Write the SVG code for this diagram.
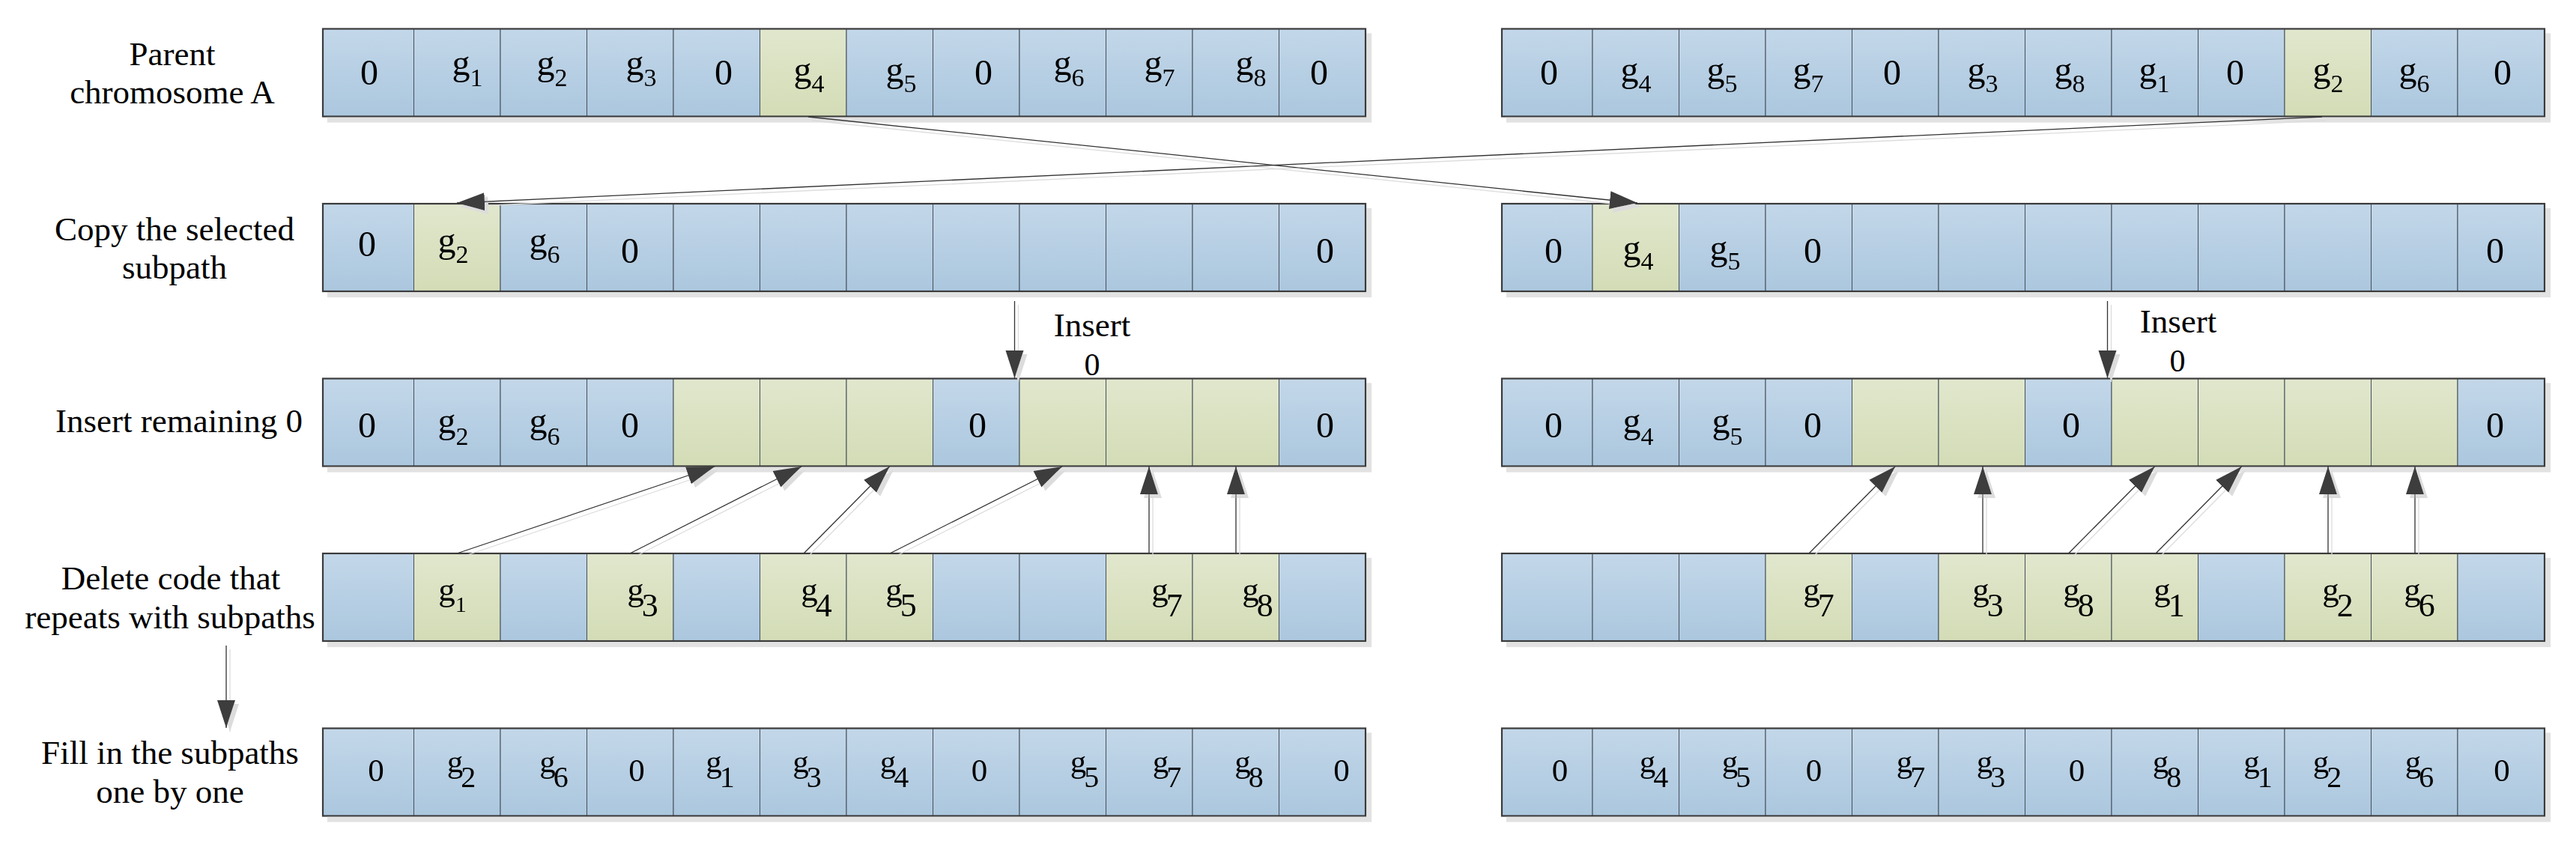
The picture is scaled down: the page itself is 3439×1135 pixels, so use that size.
<svg xmlns="http://www.w3.org/2000/svg" width="3439" height="1135" viewBox="0 0 3439 1135">
<defs>
<linearGradient id="gb" x1="0" y1="0" x2="0" y2="1"><stop offset="0" stop-color="#c3d7e9"/><stop offset="1" stop-color="#abc7de"/></linearGradient>
<linearGradient id="gg" x1="0" y1="0" x2="0" y2="1"><stop offset="0" stop-color="#e1e7cd"/><stop offset="1" stop-color="#d3dcb6"/></linearGradient>
<filter id="sh" filterUnits="userSpaceOnUse" x="0" y="0" width="3439" height="1135"><feOffset in="SourceAlpha" dx="7" dy="7" result="o"/><feFlood flood-color="#e2e2e2"/><feComposite in2="o" operator="in" result="s"/><feMerge><feMergeNode in="s"/><feMergeNode in="SourceGraphic"/></feMerge></filter>
<filter id="lsh" filterUnits="userSpaceOnUse" x="0" y="0" width="3439" height="1135"><feOffset in="SourceAlpha" dx="5" dy="5" result="o"/><feFlood flood-color="#dcdcdc"/><feComposite in2="o" operator="in" result="s"/><feMerge><feMergeNode in="s"/><feMergeNode in="SourceGraphic"/></feMerge></filter>
<marker id="ah" markerUnits="userSpaceOnUse" markerWidth="38" markerHeight="26" viewBox="0 0 38 26" refX="37" refY="13" orient="auto"><path d="M0,1 L37,13 L0,25 z" fill="#3c3c3c"/></marker>
<style>
.b{fill:url(#gb);stroke:#46505a;stroke-width:1}
.g{fill:url(#gg);stroke:#46505a;stroke-width:1}
.ol{fill:none;stroke:#3a3a3a;stroke-width:2.2}
.t{font-family:"Liberation Serif","Times New Roman",serif;font-size:48px;text-anchor:middle;fill:#000}
.t4{font-family:"Liberation Serif","Times New Roman",serif;font-size:45px;text-anchor:middle;fill:#000}
.t5{font-family:"Liberation Serif","Times New Roman",serif;font-size:43px;text-anchor:middle;fill:#000}
.s{font-size:34px}
.s4{font-size:44px}
.s4s{font-size:30px}
.s5{font-size:40px}
.lb{font-family:"Liberation Serif","Times New Roman",serif;font-size:45px;text-anchor:middle;fill:#000}
.cn{stroke:#333;stroke-width:1.3;fill:none;marker-end:url(#ah)}
</style>
</defs>
<rect width="3439" height="1135" fill="#fff"/>

<g id="labels">
<text class="lb" x="230" y="87">Parent<tspan x="230" y="138">chromosome A</tspan></text>
<text class="lb" x="233" y="321">Copy the selected<tspan x="233" y="372">subpath</tspan></text>
<text class="lb" x="239" y="577">Insert remaining 0</text>
<text class="lb" x="228" y="787">Delete code that<tspan x="227" y="839">repeats with subpaths</tspan></text>
<text class="lb" x="227" y="1020">Fill in the subpaths<tspan x="227" y="1072">one by one</tspan></text>
<text class="lb" x="1458" y="449">Insert</text>
<text class="lb" x="1458" y="501" style="font-size:42px">0</text>
<text class="lb" x="2908" y="444">Insert</text>
<text class="lb" x="2907" y="496" style="font-size:42px">0</text>
</g>

<!-- Row 1: parent chromosomes -->
<g id="parentA" filter="url(#sh)">
<rect class="b" x="431" y="38.5" width="121.5" height="117"/><rect class="b" x="552.5" y="38.5" width="115.5" height="117"/><rect class="b" x="668" y="38.5" width="115.5" height="117"/><rect class="b" x="783.5" y="38.5" width="115.5" height="117"/><rect class="b" x="899" y="38.5" width="115.5" height="117"/><rect class="g" x="1014.5" y="38.5" width="115.5" height="117"/><rect class="b" x="1130" y="38.5" width="115.5" height="117"/><rect class="b" x="1245.5" y="38.5" width="115.5" height="117"/><rect class="b" x="1361" y="38.5" width="115.5" height="117"/><rect class="b" x="1476.5" y="38.5" width="115.5" height="117"/><rect class="b" x="1592" y="38.5" width="115.5" height="117"/><rect class="b" x="1707.5" y="38.5" width="115.5" height="117"/>
<rect class="ol" x="431" y="38.5" width="1392" height="117"/>
<text class="t" x="493" y="113">0</text>
<text class="t" x="624" y="100">g<tspan class="s" dy="15">1</tspan></text>
<text class="t" x="737" y="100">g<tspan class="s" dy="15">2</tspan></text>
<text class="t" x="856" y="100">g<tspan class="s" dy="15">3</tspan></text>
<text class="t" x="966" y="113">0</text>
<text class="t" x="1080" y="109">g<tspan class="s" dy="14">4</tspan></text>
<text class="t" x="1203" y="109">g<tspan class="s" dy="14">5</tspan></text>
<text class="t" x="1313" y="113">0</text>
<text class="t" x="1427" y="100">g<tspan class="s" dy="15">6</tspan></text>
<text class="t" x="1548" y="100">g<tspan class="s" dy="15">7</tspan></text>
<text class="t" x="1670" y="100">g<tspan class="s" dy="15">8</tspan></text>
<text class="t" x="1761" y="113">0</text>
</g>

<g id="parentB" filter="url(#sh)">
<rect class="b" x="2005" y="38.5" width="121" height="117"/><rect class="b" x="2126" y="38.5" width="115.5" height="117"/><rect class="b" x="2241.5" y="38.5" width="115.5" height="117"/><rect class="b" x="2357" y="38.5" width="115.5" height="117"/><rect class="b" x="2472.5" y="38.5" width="115.5" height="117"/><rect class="b" x="2588" y="38.5" width="115.5" height="117"/><rect class="b" x="2703.5" y="38.5" width="115.5" height="117"/><rect class="b" x="2819" y="38.5" width="115.5" height="117"/><rect class="b" x="2934.5" y="38.5" width="115.5" height="117"/><rect class="g" x="3050" y="38.5" width="115.5" height="117"/><rect class="b" x="3165.5" y="38.5" width="115.5" height="117"/><rect class="b" x="3281" y="38.5" width="116" height="117"/>
<rect class="ol" x="2005" y="38.5" width="1392" height="117"/>
<text class="t" x="2068" y="113">0</text>
<text class="t" x="2184" y="109">g<tspan class="s" dy="14">4</tspan></text>
<text class="t" x="2299" y="109">g<tspan class="s" dy="14">5</tspan></text>
<text class="t" x="2414" y="109">g<tspan class="s" dy="14">7</tspan></text>
<text class="t" x="2526" y="113">0</text>
<text class="t" x="2647" y="109">g<tspan class="s" dy="14">3</tspan></text>
<text class="t" x="2763" y="109">g<tspan class="s" dy="14">8</tspan></text>
<text class="t" x="2876" y="109">g<tspan class="s" dy="14">1</tspan></text>
<text class="t" x="2984" y="113">0</text>
<text class="t" x="3108" y="109">g<tspan class="s" dy="14">2</tspan></text>
<text class="t" x="3223" y="109">g<tspan class="s" dy="14">6</tspan></text>
<text class="t" x="3341" y="113">0</text>
</g>

<!-- Row 2: copy selected subpath -->
<g id="copyA" filter="url(#sh)">
<rect class="b" x="431" y="272" width="121.5" height="117"/><rect class="g" x="552.5" y="272" width="115.5" height="117"/><rect class="b" x="668" y="272" width="115.5" height="117"/><rect class="b" x="783.5" y="272" width="115.5" height="117"/><rect class="b" x="899" y="272" width="115.5" height="117"/><rect class="b" x="1014.5" y="272" width="115.5" height="117"/><rect class="b" x="1130" y="272" width="115.5" height="117"/><rect class="b" x="1245.5" y="272" width="115.5" height="117"/><rect class="b" x="1361" y="272" width="115.5" height="117"/><rect class="b" x="1476.5" y="272" width="115.5" height="117"/><rect class="b" x="1592" y="272" width="115.5" height="117"/><rect class="b" x="1707.5" y="272" width="115.5" height="117"/>
<rect class="ol" x="431" y="272" width="1392" height="117"/>
<text class="t" x="490" y="342">0</text>
<text class="t" x="605" y="336.5">g<tspan class="s" dy="14">2</tspan></text>
<text class="t" x="727" y="336.5">g<tspan class="s" dy="14">6</tspan></text>
<text class="t" x="841" y="351">0</text>
<text class="t" x="1769" y="351">0</text>
</g>

<g id="copyB" filter="url(#sh)">
<rect class="b" x="2005" y="272" width="121" height="117"/><rect class="g" x="2126" y="272" width="115.5" height="117"/><rect class="b" x="2241.5" y="272" width="115.5" height="117"/><rect class="b" x="2357" y="272" width="115.5" height="117"/><rect class="b" x="2472.5" y="272" width="115.5" height="117"/><rect class="b" x="2588" y="272" width="115.5" height="117"/><rect class="b" x="2703.5" y="272" width="115.5" height="117"/><rect class="b" x="2819" y="272" width="115.5" height="117"/><rect class="b" x="2934.5" y="272" width="115.5" height="117"/><rect class="b" x="3050" y="272" width="115.5" height="117"/><rect class="b" x="3165.5" y="272" width="115.5" height="117"/><rect class="b" x="3281" y="272" width="116" height="117"/>
<rect class="ol" x="2005" y="272" width="1392" height="117"/>
<text class="t" x="2074" y="351">0</text>
<text class="t" x="2187" y="346.5">g<tspan class="s" dy="13.5">4</tspan></text>
<text class="t" x="2303" y="346.5">g<tspan class="s" dy="13.5">5</tspan></text>
<text class="t" x="2420" y="351">0</text>
<text class="t" x="3331" y="351">0</text>
</g>

<!-- Row 3: insert remaining 0 -->
<g id="insertA" filter="url(#sh)">
<rect class="b" x="431" y="505.5" width="121.5" height="117"/><rect class="b" x="552.5" y="505.5" width="115.5" height="117"/><rect class="b" x="668" y="505.5" width="115.5" height="117"/><rect class="b" x="783.5" y="505.5" width="115.5" height="117"/><rect class="g" x="899" y="505.5" width="115.5" height="117"/><rect class="g" x="1014.5" y="505.5" width="115.5" height="117"/><rect class="g" x="1130" y="505.5" width="115.5" height="117"/><rect class="b" x="1245.5" y="505.5" width="115.5" height="117"/><rect class="g" x="1361" y="505.5" width="115.5" height="117"/><rect class="g" x="1476.5" y="505.5" width="115.5" height="117"/><rect class="g" x="1592" y="505.5" width="115.5" height="117"/><rect class="b" x="1707.5" y="505.5" width="115.5" height="117"/>
<rect class="ol" x="431" y="505.5" width="1392" height="117"/>
<text class="t" x="490" y="584">0</text>
<text class="t" x="605" y="578">g<tspan class="s" dy="16">2</tspan></text>
<text class="t" x="727" y="578">g<tspan class="s" dy="16">6</tspan></text>
<text class="t" x="841" y="584">0</text>
<text class="t" x="1305" y="584">0</text>
<text class="t" x="1769" y="584">0</text>
</g>

<g id="insertB" filter="url(#sh)">
<rect class="b" x="2005" y="505.5" width="121" height="117"/><rect class="b" x="2126" y="505.5" width="115.5" height="117"/><rect class="b" x="2241.5" y="505.5" width="115.5" height="117"/><rect class="b" x="2357" y="505.5" width="115.5" height="117"/><rect class="g" x="2472.5" y="505.5" width="115.5" height="117"/><rect class="g" x="2588" y="505.5" width="115.5" height="117"/><rect class="b" x="2703.5" y="505.5" width="115.5" height="117"/><rect class="g" x="2819" y="505.5" width="115.5" height="117"/><rect class="g" x="2934.5" y="505.5" width="115.5" height="117"/><rect class="g" x="3050" y="505.5" width="115.5" height="117"/><rect class="g" x="3165.5" y="505.5" width="115.5" height="117"/><rect class="b" x="3281" y="505.5" width="116" height="117"/>
<rect class="ol" x="2005" y="505.5" width="1392" height="117"/>
<text class="t" x="2074" y="584">0</text>
<text class="t" x="2187" y="578">g<tspan class="s" dy="16">4</tspan></text>
<text class="t" x="2306" y="578">g<tspan class="s" dy="16">5</tspan></text>
<text class="t" x="2420" y="584">0</text>
<text class="t" x="2765" y="584">0</text>
<text class="t" x="3331" y="584">0</text>
</g>

<!-- Row 4: delete repeated codes -->
<g id="deleteA" filter="url(#sh)">
<rect class="b" x="431" y="739" width="121.5" height="117"/><rect class="g" x="552.5" y="739" width="115.5" height="117"/><rect class="b" x="668" y="739" width="115.5" height="117"/><rect class="g" x="783.5" y="739" width="115.5" height="117"/><rect class="b" x="899" y="739" width="115.5" height="117"/><rect class="g" x="1014.5" y="739" width="115.5" height="117"/><rect class="g" x="1130" y="739" width="115.5" height="117"/><rect class="b" x="1245.5" y="739" width="115.5" height="117"/><rect class="b" x="1361" y="739" width="115.5" height="117"/><rect class="g" x="1476.5" y="739" width="115.5" height="117"/><rect class="g" x="1592" y="739" width="115.5" height="117"/><rect class="b" x="1707.5" y="739" width="115.5" height="117"/>
<rect class="ol" x="431" y="739" width="1392" height="117"/>
<text class="t4" x="604" y="801.5">g<tspan class="s4s" dy="15">1</tspan></text>
<text class="t4" x="858" y="801.5">g<tspan class="s4" dx="-3" dy="21">3</tspan></text>
<text class="t4" x="1090" y="801.5">g<tspan class="s4" dx="-3" dy="21">4</tspan></text>
<text class="t4" x="1203" y="801.5">g<tspan class="s4" dx="-3" dy="21">5</tspan></text>
<text class="t4" x="1558" y="801.5">g<tspan class="s4" dx="-3" dy="21">7</tspan></text>
<text class="t4" x="1679" y="801.5">g<tspan class="s4" dx="-3" dy="21">8</tspan></text>
</g>

<g id="deleteB" filter="url(#sh)">
<rect class="b" x="2005" y="739" width="121" height="117"/><rect class="b" x="2126" y="739" width="115.5" height="117"/><rect class="b" x="2241.5" y="739" width="115.5" height="117"/><rect class="g" x="2357" y="739" width="115.5" height="117"/><rect class="b" x="2472.5" y="739" width="115.5" height="117"/><rect class="g" x="2588" y="739" width="115.5" height="117"/><rect class="g" x="2703.5" y="739" width="115.5" height="117"/><rect class="g" x="2819" y="739" width="115.5" height="117"/><rect class="b" x="2934.5" y="739" width="115.5" height="117"/><rect class="g" x="3050" y="739" width="115.5" height="117"/><rect class="g" x="3165.5" y="739" width="115.5" height="117"/><rect class="b" x="3281" y="739" width="116" height="117"/>
<rect class="ol" x="2005" y="739" width="1392" height="117"/>
<text class="t4" x="2428" y="801.5">g<tspan class="s4" dx="-3" dy="21">7</tspan></text>
<text class="t4" x="2654" y="801.5">g<tspan class="s4" dx="-3" dy="21">3</tspan></text>
<text class="t4" x="2775" y="801.5">g<tspan class="s4" dx="-3" dy="21">8</tspan></text>
<text class="t4" x="2896" y="801.5">g<tspan class="s4" dx="-3" dy="21">1</tspan></text>
<text class="t4" x="3121" y="801.5">g<tspan class="s4" dx="-3" dy="21">2</tspan></text>
<text class="t4" x="3230" y="801.5">g<tspan class="s4" dx="-3" dy="21">6</tspan></text>
</g>

<!-- Row 5: fill in subpaths -->
<g id="fillA" filter="url(#sh)">
<rect class="b" x="431" y="972.5" width="121.5" height="117"/><rect class="b" x="552.5" y="972.5" width="115.5" height="117"/><rect class="b" x="668" y="972.5" width="115.5" height="117"/><rect class="b" x="783.5" y="972.5" width="115.5" height="117"/><rect class="b" x="899" y="972.5" width="115.5" height="117"/><rect class="b" x="1014.5" y="972.5" width="115.5" height="117"/><rect class="b" x="1130" y="972.5" width="115.5" height="117"/><rect class="b" x="1245.5" y="972.5" width="115.5" height="117"/><rect class="b" x="1361" y="972.5" width="115.5" height="117"/><rect class="b" x="1476.5" y="972.5" width="115.5" height="117"/><rect class="b" x="1592" y="972.5" width="115.5" height="117"/><rect class="b" x="1707.5" y="972.5" width="115.5" height="117"/>
<rect class="ol" x="431" y="972.5" width="1392" height="117"/>
<text class="t5" x="502" y="1043">0</text>
<text class="t5" x="616" y="1030.5">g<tspan class="s5" dx="-3" dy="20">2</tspan></text>
<text class="t5" x="739.5" y="1030.5">g<tspan class="s5" dx="-3" dy="20">6</tspan></text>
<text class="t5" x="850" y="1043">0</text>
<text class="t5" x="961.5" y="1030.5">g<tspan class="s5" dx="-3" dy="20">1</tspan></text>
<text class="t5" x="1077.5" y="1030.5">g<tspan class="s5" dx="-3" dy="20">3</tspan></text>
<text class="t5" x="1194" y="1030.5">g<tspan class="s5" dx="-3" dy="20">4</tspan></text>
<text class="t5" x="1307.5" y="1043">0</text>
<text class="t5" x="1448" y="1030.5">g<tspan class="s5" dx="-3" dy="20">5</tspan></text>
<text class="t5" x="1558" y="1030.5">g<tspan class="s5" dx="-3" dy="20">7</tspan></text>
<text class="t5" x="1667.5" y="1030.5">g<tspan class="s5" dx="-3" dy="20">8</tspan></text>
<text class="t5" x="1791" y="1043">0</text>
</g>

<g id="fillB" filter="url(#sh)">
<rect class="b" x="2005" y="972.5" width="121" height="117"/><rect class="b" x="2126" y="972.5" width="115.5" height="117"/><rect class="b" x="2241.5" y="972.5" width="115.5" height="117"/><rect class="b" x="2357" y="972.5" width="115.5" height="117"/><rect class="b" x="2472.5" y="972.5" width="115.5" height="117"/><rect class="b" x="2588" y="972.5" width="115.5" height="117"/><rect class="b" x="2703.5" y="972.5" width="115.5" height="117"/><rect class="b" x="2819" y="972.5" width="115.5" height="117"/><rect class="b" x="2934.5" y="972.5" width="115.5" height="117"/><rect class="b" x="3050" y="972.5" width="115.5" height="117"/><rect class="b" x="3165.5" y="972.5" width="115.5" height="117"/><rect class="b" x="3281" y="972.5" width="116" height="117"/>
<rect class="ol" x="2005" y="972.5" width="1392" height="117"/>
<text class="t5" x="2082.5" y="1043">0</text>
<text class="t5" x="2208" y="1030.5">g<tspan class="s5" dx="-3" dy="20">4</tspan></text>
<text class="t5" x="2318" y="1030.5">g<tspan class="s5" dx="-3" dy="20">5</tspan></text>
<text class="t5" x="2421.5" y="1043">0</text>
<text class="t5" x="2551" y="1030.5">g<tspan class="s5" dx="-3" dy="20">7</tspan></text>
<text class="t5" x="2658" y="1030.5">g<tspan class="s5" dx="-3" dy="20">3</tspan></text>
<text class="t5" x="2772.5" y="1043">0</text>
<text class="t5" x="2893" y="1030.5">g<tspan class="s5" dx="-3" dy="20">8</tspan></text>
<text class="t5" x="3014.5" y="1030.5">g<tspan class="s5" dx="-3" dy="20">1</tspan></text>
<text class="t5" x="3107" y="1030.5">g<tspan class="s5" dx="-3" dy="20">2</tspan></text>
<text class="t5" x="3230" y="1030.5">g<tspan class="s5" dx="-3" dy="20">6</tspan></text>
<text class="t5" x="3340" y="1043">0</text>
</g>

<g id="connectors" filter="url(#lsh)">
<line class="cn" x1="1079" y1="156" x2="2186" y2="271"/>
<line class="cn" x1="3100" y1="156" x2="610" y2="271"/>
<line class="cn" x1="1354.5" y1="402" x2="1354.5" y2="505"/>
<line class="cn" x1="2813.5" y1="402" x2="2813.5" y2="505"/>
<line class="cn" x1="610" y1="739" x2="954" y2="623"/>
<line class="cn" x1="841" y1="739" x2="1070" y2="623"/>
<line class="cn" x1="1073" y1="739" x2="1187.5" y2="623"/>
<line class="cn" x1="1188" y1="739" x2="1418" y2="623"/>
<line class="cn" x1="1534" y1="739" x2="1534" y2="623"/>
<line class="cn" x1="1650" y1="739" x2="1650" y2="623"/>
<line class="cn" x1="2415" y1="739" x2="2530" y2="623"/>
<line class="cn" x1="2647" y1="739" x2="2647" y2="623"/>
<line class="cn" x1="2761.5" y1="739" x2="2876.5" y2="623"/>
<line class="cn" x1="2878" y1="739" x2="2992.5" y2="623"/>
<line class="cn" x1="3108" y1="739" x2="3108" y2="623"/>
<line class="cn" x1="3224" y1="739" x2="3224" y2="623"/>
<line class="cn" x1="302" y1="862" x2="302" y2="972"/>
</g>
</svg>
